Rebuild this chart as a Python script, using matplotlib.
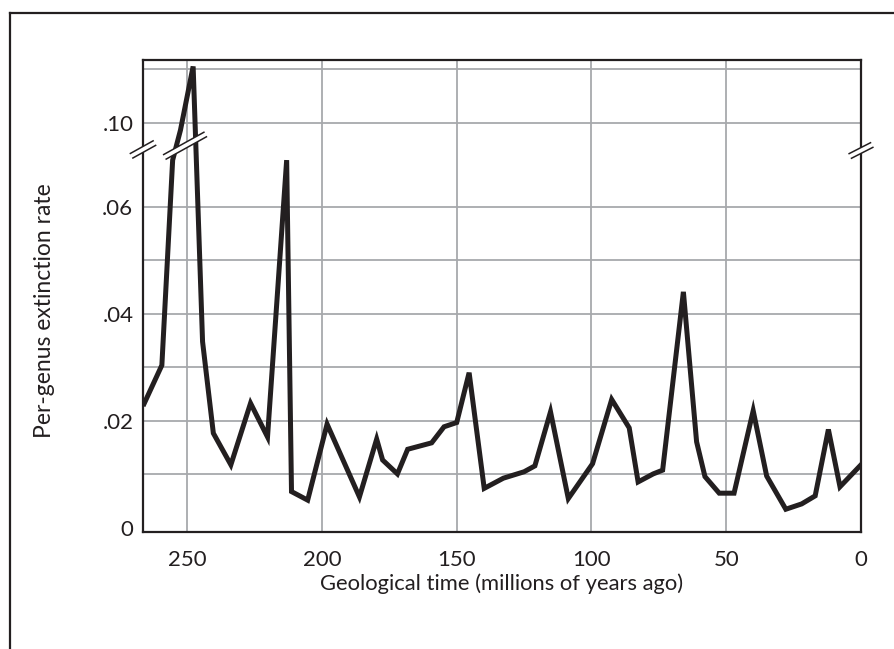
import matplotlib
matplotlib.use("Agg")
import matplotlib.pyplot as plt
from matplotlib.lines import Line2D
from matplotlib.patches import Polygon
import numpy as np

plt.rcParams.update({
    'font.family': ['Lato', 'DejaVu Sans'],
    'font.size': 15,
})

# データ
ages = [266.0, 259.4, 255.4, 252.5, 247.8, 244.3, 240.3, 233.8, 226.5, 220.2,
        213.1, 211.3, 205.3, 198.1, 186.1, 179.7, 177.5, 172.0, 168.2, 159.3,
        154.7, 150.0, 145.4, 139.8, 132.7, 125.0, 121.0, 115.2, 108.6, 99.6,
        92.5, 86.0, 82.7, 77.1, 73.6, 65.9, 61.0, 57.9, 52.6, 47.1,
        40.0, 35.0, 27.9, 22.0, 17.0, 12.1, 7.8, 0.0]
rates = [0.0232, 0.0304, 0.0687, 0.0986, 0.1105, 0.0348, 0.0177, 0.0118, 0.0233, 0.0170,
         0.0687, 0.0068, 0.0052, 0.0194, 0.0058, 0.0166, 0.0127, 0.0101, 0.0147, 0.0159,
         0.0189, 0.0197, 0.0290, 0.0074, 0.0093, 0.0105, 0.0116, 0.0217, 0.0055, 0.0120,
         0.0240, 0.0187, 0.0086, 0.0101, 0.0108, 0.0441, 0.0161, 0.0096, 0.0065, 0.0065,
         0.0219, 0.0097, 0.0035, 0.0045, 0.0060, 0.0184, 0.0077, 0.0118]

x_ticks = [250, 200, 150, 100, 50, 0]
x_ticklabels = ['250', '200', '150', '100', '50', '0']
y_ticks = [0, 0.02, 0.04, 0.06, 0.10]
y_ticklabels = ['0', '.02', '.04', '.06', '.10']
y_grid = [0.01, 0.02, 0.03, 0.04, 0.05, 0.06, 0.10, 0.11]

# 縦軸の省略（.07〜.095を詰める）
BREAK = 0.0707
OFFSET = 0.0243


def squash(v):
    v = np.asarray(v, dtype=float)
    return np.where(v > 0.08, v - OFFSET, v)


INK = '#231f20'
GRID = '#a7a9ac'

W, H = 894, 649
fig = plt.figure(figsize=(W / 100, H / 100), dpi=100)
ax = fig.add_axes([143 / W, 1 - 532 / H, (861 - 143) / W, (532 - 60) / H])

ax.set_xlim(266.4, 0)
ax.set_ylim(-0.00075, 0.0874)

for g in x_ticks[:-1]:
    ax.axvline(g, color=GRID, lw=1.3, zorder=1)
for g in squash(y_grid):
    ax.axhline(g, color=GRID, lw=1.3, zorder=1)

ax.plot(ages, squash(rates), color=INK, lw=3.6, solid_joinstyle='miter', zorder=3)

ax.set_xticks(x_ticks)
ax.set_xticklabels(x_ticklabels, fontsize=16, color=INK)
ax.set_yticks(squash(y_ticks))
ax.set_yticklabels(y_ticklabels, fontsize=16, color=INK)
ax.tick_params(axis='x', length=0, pad=13)
ax.tick_params(axis='y', length=0, pad=7)
for s in ax.spines.values():
    s.set_color(INK)
    s.set_linewidth(1.6)

ax.set_xlabel('Geological time (millions of years ago)', fontsize=15.8, color=INK)
ax.xaxis.set_label_coords(0.5, -0.088)
ax.set_ylabel('Per-genus extinction rate', fontsize=16.5, color=INK)
ax.yaxis.set_label_coords(-0.1226, 0.47)

# 省略記号（//）
to_fig = fig.transFigure.inverted()


def break_mark(xd, yd, half_len, half_gap=2.6, angle=29):
    cx, cy = ax.transData.transform((xd, yd))
    a = np.radians(angle)
    u = np.array([np.cos(a), np.sin(a)])
    n = np.array([-np.sin(a), np.cos(a)])
    c = np.array([cx, cy])
    corners = [c - half_len * u - half_gap * n, c + half_len * u - half_gap * n,
               c + half_len * u + half_gap * n, c - half_len * u + half_gap * n]
    corners = to_fig.transform(corners)
    fig.add_artist(Polygon(corners, closed=True, facecolor='white', edgecolor='none', zorder=10))
    for sgn in (-1, 1):
        p0 = c - half_len * u + sgn * half_gap * n
        p1 = c + half_len * u + sgn * half_gap * n
        pts = to_fig.transform([p0, p1])
        fig.add_artist(Line2D(pts[:, 0], pts[:, 1], color=INK, lw=1.1, zorder=11))


break_mark(266.4, BREAK, 13)
break_mark(250.8, 0.0714, 23)
break_mark(0, 0.0705, 12, angle=27)

# 外枠
fig.add_artist(Line2D([10 / W, 1], [1 - 13 / H, 1 - 13 / H], color=INK, lw=1.6))
fig.add_artist(Line2D([10 / W, 10 / W], [1 - 13 / H, 0], color=INK, lw=1.6))

fig.savefig('out.png', dpi=100)
